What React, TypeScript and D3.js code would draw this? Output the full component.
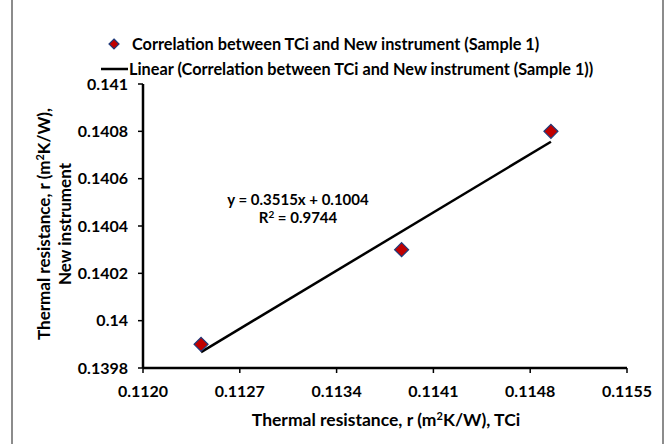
import React from "react";
import * as d3 from "d3";

const xValues = [0.11242, 0.11387, 0.11495];
const yValues = [0.1399, 0.1403, 0.1408];
const xTicks = [0.112, 0.1127, 0.1134, 0.1141, 0.1148, 0.1155];
const xTickLabels = ["0.1120", "0.1127", "0.1134", "0.1141", "0.1148", "0.1155"];
const yTicks = [0.1398, 0.14, 0.1402, 0.1404, 0.1406, 0.1408, 0.141];
const yTickLabels = ["0.1398", "0.14", "0.1402", "0.1404", "0.1406", "0.1408", "0.141"];
const seriesName = "Correlation between TCi and New instrument (Sample 1)";
const trendName = "Linear (Correlation between TCi and New instrument (Sample 1))";
const equationText = "y = 0.3515x + 0.1004";
const r2Value = "0.9744";

const W = 670;
const H = 444;
const FONT = "Lato, 'Open Sans', sans-serif";

export default function App() {
  const m = { left: 143, right: 627, top: 84, bottom: 368 };
  const x = d3.scaleLinear().domain([0.112, 0.1155]).range([m.left, m.right]);
  const y = d3.scaleLinear().domain([0.1398, 0.141]).range([m.bottom, m.top]);

  // least squares fit
  const mx = d3.mean(xValues)!;
  const my = d3.mean(yValues)!;
  let sxy = 0, sxx = 0;
  xValues.forEach((xv, i) => {
    sxy += (xv - mx) * (yValues[i] - my);
    sxx += (xv - mx) * (xv - mx);
  });
  const slope = sxy / sxx;
  const intercept = my - slope * mx;
  const [x0, x1] = d3.extent(xValues) as [number, number];
  const line = d3.line<number>().x((d) => x(d)).y((d) => y(slope * d + intercept));

  const diamond = (cx: number, cy: number, r: number) =>
    `M${cx},${cy - r}L${cx + r},${cy}L${cx},${cy + r}L${cx - r},${cy}Z`;

  return (
    <svg
      width={W}
      height={H}
      style={{ position: "absolute", left: 0, top: 0, background: "#fff" }}
      fontFamily={FONT}
    >
      <rect x={0} y={0} width={W} height={H} fill="#fff" />
      <line x1={12} y1={0} x2={12} y2={H} stroke="#8c8c8c" strokeWidth={2} />
      <line x1={663} y1={0} x2={663} y2={H} stroke="#8c8c8c" strokeWidth={2} />

      {/* legend */}
      <path d={diamond(114, 44, 5)} fill="#c00000" stroke="#1f3a7a" strokeWidth={1.2} />
      <text x={132} y={49.5} fontSize={16.3} fontWeight={700} fill="#000">
        {seriesName}
      </text>
      <line x1={101} y1={69} x2={128} y2={69} stroke="#000" strokeWidth={2.5} />
      <text x={129} y={74.5} fontSize={16.3} fontWeight={700} fill="#000">
        {trendName}
      </text>

      {/* trendline */}
      <path d={line([x0, x1]) || ""} fill="none" stroke="#000" strokeWidth={2.5} />

      {/* points */}
      {xValues.map((xv, i) => (
        <path
          key={i}
          d={diamond(x(xv), y(yValues[i]), 7)}
          fill="#c00000"
          stroke="#1f3a7a"
          strokeWidth={1.2}
        />
      ))}

      {/* axes */}
      <line x1={m.left} y1={m.bottom} x2={m.right} y2={m.bottom} stroke="#000" strokeWidth={2.5} />
      <line x1={m.left} y1={m.top} x2={m.left} y2={m.bottom} stroke="#000" strokeWidth={2.5} />
      {xTicks.map((t, i) => (
        <g key={"xt" + i}>
          <line x1={x(t)} y1={m.bottom} x2={x(t)} y2={m.bottom + 5} stroke="#000" strokeWidth={1.5} />
          <text x={x(t)} y={397} textAnchor="middle" fontSize={16} fontWeight={700}>
            {xTickLabels[i]}
          </text>
        </g>
      ))}
      {yTicks.map((t, i) => (
        <g key={"yt" + i}>
          <line x1={m.left - 5} y1={y(t)} x2={m.left} y2={y(t)} stroke="#000" strokeWidth={1.5} />
          <text x={128} y={y(t) + 5.5} textAnchor="end" fontSize={16} fontWeight={700}>
            {yTickLabels[i]}
          </text>
        </g>
      ))}

      {/* equation */}
      <text x={298} y={205} textAnchor="middle" fontSize={15} fontWeight={700}>
        {equationText}
      </text>
      <text x={298} y={223} textAnchor="middle" fontSize={15} fontWeight={700}>
        R<tspan dy={-5} fontSize={10}>2</tspan>
        <tspan dy={5}>{" = " + r2Value}</tspan>
      </text>

      {/* axis titles */}
      <text x={386} y={426} textAnchor="middle" fontSize={17.5} fontWeight={700}>
        Thermal resistance, r (m<tspan dy={-6} fontSize={11}>2</tspan>
        <tspan dy={6}>K/W), TCi</tspan>
      </text>
      <g transform="translate(50,224) rotate(-90)">
        <text x={0} y={0} textAnchor="middle" fontSize={17} fontWeight={700}>
          Thermal resistance, r (m<tspan dy={-6} fontSize={11}>2</tspan>
          <tspan dy={6}>K/W),</tspan>
        </text>
        <text x={0} y={21} textAnchor="middle" fontSize={17} fontWeight={700}>
          New instrument
        </text>
      </g>
    </svg>
  );
}
